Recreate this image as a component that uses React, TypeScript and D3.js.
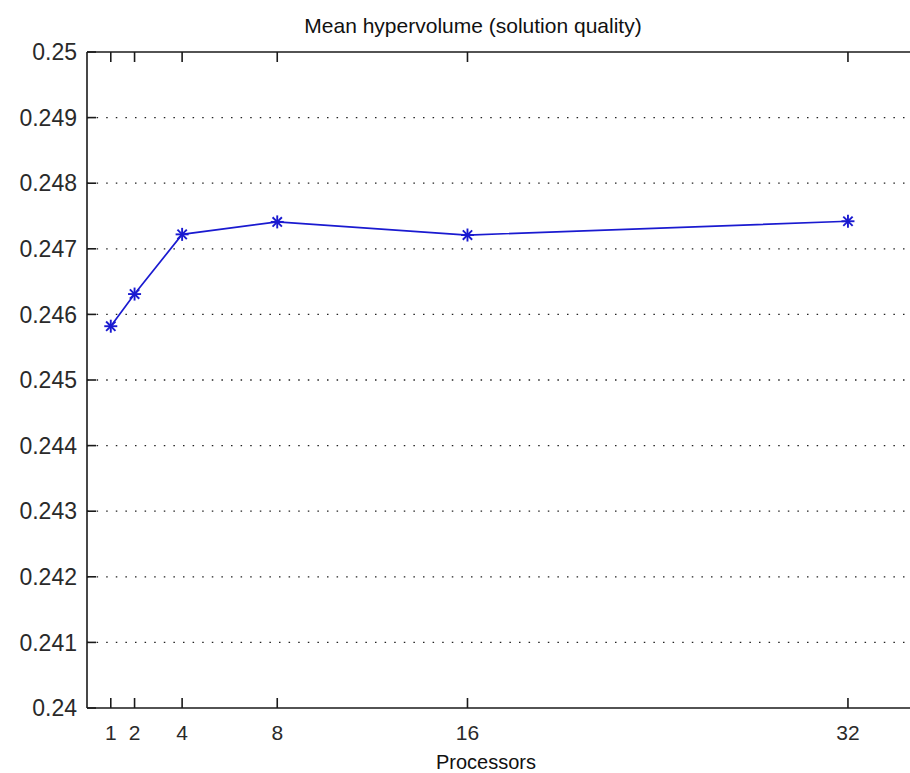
import React from "react";
import * as d3 from "d3";

const processors = [1, 2, 4, 8, 16, 32];
const hypervolume = [0.24582, 0.24631, 0.24722, 0.24741, 0.24721, 0.24742];
const xTicks = [1, 2, 4, 8, 16, 32];
const yTicks = [0.24, 0.241, 0.242, 0.243, 0.244, 0.245, 0.246, 0.247, 0.248, 0.249, 0.25];
const titleText = "Mean hypervolume (solution quality)";
const xLabelText = "Processors";

const W = 910;
const H = 773;
const left = 87;
const top = 52;
const bottom = 708;

export default function App() {
  const x = d3.scaleLinear().domain([0, 35]).range([left, left + 35 * 23.78]);
  const y = d3.scaleLinear().domain([0.24, 0.25]).range([bottom, top]);
  const right = x(35);
  const line = d3
    .line<number>()
    .x((_, i) => x(processors[i]))
    .y((d) => y(d));
  const fmt = (v: number) => String(+v.toFixed(3));
  const font = "Arial, 'Liberation Sans', Helvetica, sans-serif";
  const ink = "#1a1a1a";
  const blue = "#1a1ad0";
  const m = 6.5;

  return (
    <svg
      width={W}
      height={H}
      style={{ position: "absolute", left: 0, top: 0, background: "#fff" }}
      fontFamily={font}
    >
      <rect x={0} y={0} width={W} height={H} fill="#fff" />
      {yTicks.slice(1, -1).map((t) => (
        <line
          key={"g" + t}
          x1={left}
          x2={right}
          y1={y(t)}
          y2={y(t)}
          stroke="#222"
          strokeWidth={1.3}
          strokeDasharray="1.5 8.1"
        />
      ))}
      <line x1={left} x2={right} y1={top} y2={top} stroke={ink} strokeWidth={1.6} />
      <line x1={left} x2={right} y1={bottom} y2={bottom} stroke={ink} strokeWidth={1.6} />
      <line x1={left} x2={left} y1={top} y2={bottom} stroke={ink} strokeWidth={1.6} />
      {yTicks.map((t) => (
        <g key={"y" + t}>
          <line x1={left} x2={left + 9} y1={y(t)} y2={y(t)} stroke={ink} strokeWidth={1.6} />
          <text
            x={77}
            y={y(t)}
            dy="0.36em"
            textAnchor="end"
            fontSize={23}
            fill="#2a2a2a"
          >
            {fmt(t)}
          </text>
        </g>
      ))}
      {xTicks.map((t) => (
        <g key={"x" + t}>
          <line x1={x(t)} x2={x(t)} y1={bottom} y2={bottom - 10} stroke={ink} strokeWidth={1.6} />
          <line x1={x(t)} x2={x(t)} y1={top} y2={top + 10} stroke={ink} strokeWidth={1.6} />
          <text x={x(t)} y={739.5} textAnchor="middle" fontSize={21} fill="#2a2a2a">
            {t}
          </text>
        </g>
      ))}
      <path d={line(hypervolume) || ""} fill="none" stroke={blue} strokeWidth={1.7} />
      {hypervolume.map((v, i) => {
        const cx = x(processors[i]);
        const cy = y(v);
        const d = m * 0.72;
        return (
          <g key={"m" + i} stroke={blue} strokeWidth={1.9}>
            <line x1={cx - m} x2={cx + m} y1={cy} y2={cy} />
            <line x1={cx} x2={cx} y1={cy - m} y2={cy + m} />
            <line x1={cx - d} x2={cx + d} y1={cy - d} y2={cy + d} />
            <line x1={cx - d} x2={cx + d} y1={cy + d} y2={cy - d} />
          </g>
        );
      })}
      <text x={473} y={33} textAnchor="middle" fontSize={21} fill="#111">
        {titleText}
      </text>
      <text x={486} y={769} textAnchor="middle" fontSize={20} fill="#111">
        {xLabelText}
      </text>
    </svg>
  );
}
